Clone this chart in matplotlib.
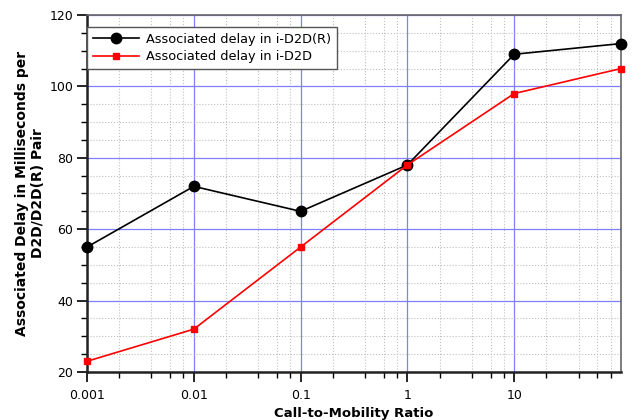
import matplotlib
matplotlib.use("Agg")
import matplotlib.pyplot as plt
from matplotlib.ticker import FixedLocator, NullFormatter, MultipleLocator

x = [0.001, 0.01, 0.1, 1, 10, 100]
delay_r = [55, 72, 65, 78, 109, 112]
delay = [23, 32, 55, 78, 98, 105]
xticks = [0.001, 0.01, 0.1, 1, 10]
xticklabels = ["0.001", "0.01", "0.1", "1", "10"]
yticks = [20, 40, 60, 80, 100, 120]

fig = plt.figure(figsize=(6.42, 4.2), dpi=100)
ax = fig.add_axes([87/642, 48/420, (621-87)/642, (372-15)/420])

ax.plot(x, delay_r, color="black", marker="o", markersize=7.5, linewidth=1.2,
        label="Associated delay in i-D2D(R)", clip_on=False, zorder=3)
ax.plot(x, delay, color="red", marker="s", markersize=4.5, linewidth=1.2,
        label="Associated delay in i-D2D", clip_on=False, zorder=4)

ax.set_xscale("log")
ax.set_xlim(0.001, 100)
ax.set_ylim(20, 120)
ax.set_xticks(xticks)
ax.set_xticklabels(xticklabels)
minors = []
for d in [0.001, 0.01, 0.1, 1, 10]:
    for m in [2, 4, 6, 8]:
        minors.append(d * m)
ax.xaxis.set_minor_locator(FixedLocator(minors))
ax.xaxis.set_minor_formatter(NullFormatter())
ax.set_yticks(yticks)
ax.yaxis.set_minor_locator(MultipleLocator(5))

ax.grid(which="minor", color="#c0c0c0", linestyle=":", linewidth=0.8)
ax.grid(which="major", color="#8080ff", linestyle="-", linewidth=0.9)
ax.set_axisbelow(True)

for s in ["left", "bottom"]:
    ax.spines[s].set_linewidth(1.8)
    ax.spines[s].set_color("#222222")
for s in ["top", "right"]:
    ax.spines[s].set_linewidth(1.2)
    ax.spines[s].set_color("#666666")

ax.tick_params(which="major", length=7, width=1.2, labelsize=9, direction="out")
ax.tick_params(axis="x", which="major", pad=5)
ax.tick_params(axis="y", which="major", pad=3)
ax.tick_params(which="minor", length=4, width=1.0, direction="out")

ax.set_xlabel("Call-to-Mobility Ratio", fontsize=9.5, fontweight="bold", labelpad=4)
ax.set_ylabel("Associated Delay in Milliseconds per\nD2D/D2D(R) Pair", fontsize=10,
              fontweight="bold", labelpad=3)

leg = ax.legend(loc="upper left", bbox_to_anchor=(0.0, 0.966), fontsize=9.3,
                fancybox=False, framealpha=1, edgecolor="#555555", borderaxespad=0,
                handlelength=3.6, borderpad=0.45, labelspacing=0.35, handletextpad=0.55)
leg.get_frame().set_linewidth(1.0)

fig.savefig("out.png", dpi=100)
